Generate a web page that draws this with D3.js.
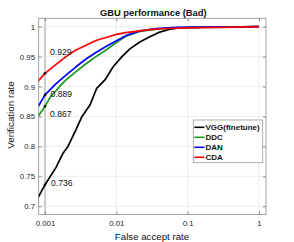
<!doctype html>
<html>
<head>
<meta charset="utf-8">
<script src="https://d3js.org/d3.v7.min.js"></script>
<style>
  body { margin: 0; background: #fff; }
  text { font-family: "Liberation Sans", Arial, Helvetica, sans-serif; }
</style>
</head>
<body>
<div id="viz"></div>
<script>
// series names / colours in legend order
var seriesNames = ["VGG(finetune)", "DDC", "DAN", "CDA"];
var seriesColors = ["#000000", "#1a9a1a", "#0000ff", "#ff0000"];

// axis ticks
var xTicks = [0.001, 0.01, 0.1, 1];
var xTickLabels = ["0.001", "0.01", "0.1", "1"];
var yTicks = [0.7, 0.75, 0.8, 0.85, 0.9, 0.95, 1];
var yTickLabels = ["0.7", "0.75", "0.8", "0.85", "0.9", "0.95", "1"];

// operating point marked on the chart and its labels (same order as series)
var markFar = 0.001;
var markLabels = ["0.736", "0.867", "0.889", "0.929"];

// [false accept rate, verification rate]
var vgg = [[0.00079, 0.713], [0.001, 0.736], [0.00143, 0.765], [0.0018, 0.789], [0.0021, 0.800],
           [0.00272, 0.828], [0.0033, 0.850], [0.00427, 0.869], [0.0053, 0.897], [0.00692, 0.911],
           [0.00903, 0.933], [0.0119, 0.9495], [0.0155, 0.963], [0.0213, 0.9745], [0.0295, 0.983],
           [0.0407, 0.991], [0.0563, 0.9957], [0.0778, 0.998], [0.108, 0.999], [0.3, 0.9995], [1, 1]];
var ddc = [[0.0008, 0.850], [0.001, 0.867], [0.00121, 0.884], [0.00143, 0.893], [0.00165, 0.902],
           [0.00197, 0.911], [0.00272, 0.925], [0.00376, 0.938], [0.00518, 0.950], [0.00715, 0.961],
           [0.0099, 0.973], [0.0136, 0.984], [0.0213, 0.992], [0.0365, 0.996], [0.07, 0.998],
           [0.3, 0.9995], [1, 1]];
var dan = [[0.0008, 0.866], [0.001, 0.886], [0.00143, 0.905], [0.00197, 0.919], [0.00272, 0.933],
           [0.00376, 0.946], [0.00518, 0.957], [0.00715, 0.967], [0.0099, 0.976], [0.0136, 0.985],
           [0.0213, 0.993], [0.0365, 0.997], [0.07, 0.999], [0.3, 0.9995], [1, 1]];
var cda = [[0.0008, 0.909], [0.001, 0.922], [0.00143, 0.937], [0.00197, 0.950], [0.00272, 0.961],
           [0.00376, 0.969], [0.00518, 0.977], [0.00715, 0.982], [0.0099, 0.987], [0.0136, 0.990],
           [0.0213, 0.993], [0.0295, 0.995], [0.05, 0.997], [0.1, 0.998], [0.3, 0.999], [1, 1]];
var allSeries = [vgg, ddc, dan, cda];

// label offsets from the marked point (px), layout only
var labelDx = [6, 5, 5.5, 5];
var labelDy = [1.5, 10.5, 2.5, -18];

var W = 294, H = 242;
var plotL = 38.7, plotR = 266, plotT = 18.3, plotB = 214.5;

var svg = d3.select("#viz").append("svg")
    .attr("width", W).attr("height", H);

var x = d3.scaleLog().domain([0.000816, 1.253]).range([plotL, plotR]);
var y = d3.scaleLinear().domain([0.6862, 1.014]).range([plotB, plotT]);

// grid
svg.append("g").selectAll("line").data(xTicks).enter().append("line")
    .attr("x1", d => x(d)).attr("x2", d => x(d))
    .attr("y1", plotT).attr("y2", plotB)
    .style("stroke", "#e8e8e8").style("stroke-width", 0.8);
svg.append("g").selectAll("line").data(yTicks).enter().append("line")
    .attr("y1", d => y(d)).attr("y2", d => y(d))
    .attr("x1", plotL).attr("x2", plotR)
    .style("stroke", "#e8e8e8").style("stroke-width", 0.8);

// marker line at 0.001
svg.append("line")
    .attr("x1", x(markFar)).attr("x2", x(markFar))
    .attr("y1", plotT).attr("y2", plotB)
    .style("stroke", "#c4c4c4").style("stroke-width", 1.6);

// axes
function styleAxis(g) {
  g.select(".domain").remove();
  g.selectAll(".tick line").style("stroke", "#8c8c8c");
  g.selectAll("text").style("font-size", "7.8px").style("fill", "#262626");
}
svg.append("g").attr("transform", "translate(0," + plotB + ")")
    .call(d3.axisBottom(x).tickValues(xTicks).tickFormat((d, i) => xTickLabels[i])
          .tickSize(-3).tickPadding(6))
    .call(styleAxis);
svg.append("g").attr("transform", "translate(0," + plotT + ")")
    .call(d3.axisTop(x).tickValues(xTicks).tickFormat("").tickSize(-3))
    .call(styleAxis);
svg.append("g").attr("transform", "translate(" + plotL + ",0)")
    .call(d3.axisLeft(y).tickValues(yTicks).tickFormat((d, i) => yTickLabels[i])
          .tickSize(-3).tickPadding(3.7))
    .call(styleAxis);
svg.append("g").attr("transform", "translate(" + plotR + ",0)")
    .call(d3.axisRight(y).tickValues(yTicks).tickFormat("").tickSize(-3))
    .call(styleAxis);

svg.append("rect")
    .attr("x", plotL).attr("y", plotT)
    .attr("width", plotR - plotL).attr("height", plotB - plotT)
    .style("fill", "none").style("stroke", "#8c8c8c").style("stroke-width", 0.8);

// curves
svg.append("clipPath").attr("id", "plotclip").append("rect")
    .attr("x", plotL).attr("y", plotT).attr("width", plotR - plotL).attr("height", plotB - plotT);

var line = d3.line().x(d => x(d[0])).y(d => y(d[1])).curve(d3.curveLinear);

svg.append("g").attr("clip-path", "url(#plotclip)")
    .selectAll("path").data(allSeries).enter().append("path")
    .attr("d", line)
    .style("fill", "none")
    .style("stroke", (d, i) => seriesColors[i])
    .style("stroke-width", 1.7)
    .style("stroke-linejoin", "round");

// marked points and labels
function valueAt(s, f) {
  for (var k = 0; k < s.length; k++) if (s[k][0] === f) return s[k][1];
  return s[0][1];
}
allSeries.forEach(function (s, i) {
  var v = valueAt(s, markFar);
  svg.append("circle")
      .attr("cx", x(markFar)).attr("cy", y(v)).attr("r", 1.3)
      .style("fill", "#000");
  svg.append("text")
      .attr("x", x(markFar) + labelDx[i]).attr("y", y(v) + labelDy[i])
      .style("font-size", "8.6px").style("fill", "#111")
      .text(markLabels[i]);
});

// legend
var lg = svg.append("g");
lg.append("rect")
    .attr("x", 193.3).attr("y", 120).attr("width", 69.4).attr("height", 42.7)
    .style("fill", "#fff").style("stroke", "#9a9a9a").style("stroke-width", 0.8);
seriesNames.forEach(function (name, i) {
  var cy = 127.3 + i * 10;
  lg.append("line")
      .attr("x1", 194.3).attr("x2", 204.5).attr("y1", cy).attr("y2", cy)
      .style("stroke", seriesColors[i]).style("stroke-width", 1.6);
  lg.append("text")
      .attr("x", 205.5).attr("y", cy).attr("dy", "0.35em")
      .style("font-size", "8px").style("font-weight", "bold").style("fill", "#111")
      .text(name);
});

// title and axis labels
svg.append("text")
    .attr("x", 153.3).attr("y", 15.5)
    .attr("text-anchor", "middle")
    .style("font-size", "9.4px").style("font-weight", "bold").style("fill", "#111")
    .text("GBU performance (Bad)");
svg.append("text")
    .attr("x", 152).attr("y", 239.5)
    .attr("text-anchor", "middle")
    .style("font-size", "9.7px").style("fill", "#111")
    .text("False accept rate");
svg.append("text")
    .attr("transform", "translate(14,115) rotate(-90)")
    .attr("text-anchor", "middle")
    .style("font-size", "9.8px").style("fill", "#111")
    .text("Verification rate");
</script>
</body>
</html>
